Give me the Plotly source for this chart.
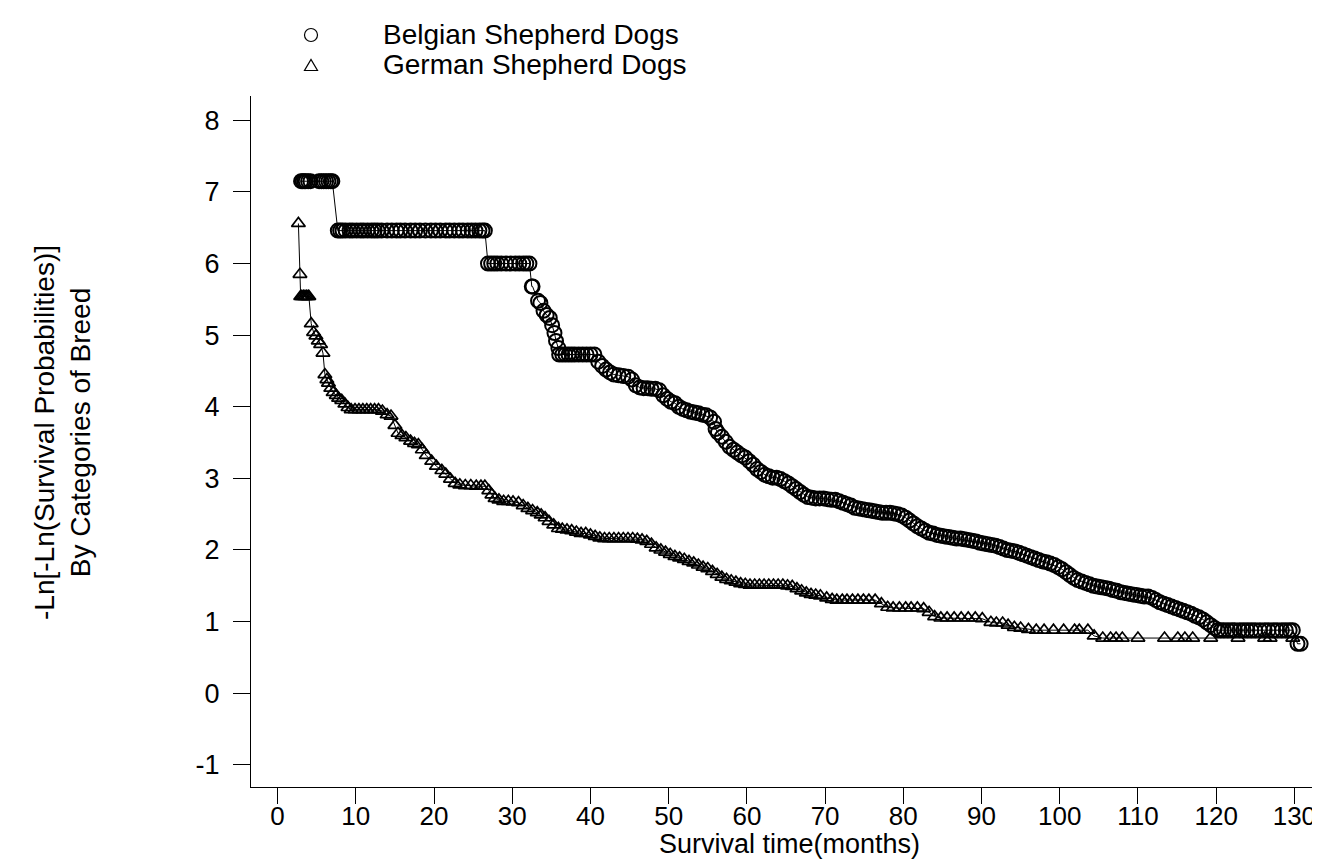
import plotly.graph_objects as go

# ---------------- data ----------------
belgian_t = [3.0, 3.2, 3.4, 3.6, 3.9, 4.2, 5.3, 5.6, 5.9, 6.2, 6.5, 6.8, 7.0,
             7.7, 8.0, 8.3, 8.7, 9.2, 9.6, 10.1, 10.6, 11.0, 11.5, 12.0, 12.4, 12.8, 13.3, 14.0, 14.6,
             15.2, 15.7, 16.3, 17.0, 17.6, 18.2, 18.9, 19.6, 20.2, 20.8, 21.5, 22.0, 22.6, 23.2, 23.7,
             24.3, 24.8, 25.3, 25.8, 26.2, 26.5,
             26.9, 27.3, 27.7, 28.1, 28.6, 29.2, 29.8, 30.4, 30.9, 31.4, 31.8, 32.2,
             32.5, 32.6, 33.3, 33.6, 34.0, 34.4, 34.8, 35.1, 35.4, 35.6, 35.9,
             36.0, 36.4, 36.8, 37.2, 37.6, 38.0, 38.5, 39.0, 39.5, 40.0, 40.5,
             41.0, 41.5, 42.0, 42.5, 43.0, 43.6, 44.2, 44.8, 45.3, 45.8, 46.3, 46.8, 47.3, 47.8, 48.3,
             48.8, 49.3, 49.8, 50.3, 50.8, 51.3, 51.8, 52.3, 52.8, 53.3, 53.8, 54.3, 54.8, 55.3, 55.8,
             56.0, 56.3, 56.8, 57.3, 57.8, 58.3, 58.8, 59.3, 59.8, 60.3, 60.8, 61.3, 61.8, 62.3,
             62.8, 63.3, 63.8, 64.3, 64.8, 65.3, 65.8, 66.3, 66.8, 67.3, 67.8, 68.3, 68.8, 69.3, 69.8,
             70.3, 70.8, 71.3, 71.8, 72.3, 72.8, 73.3, 73.8, 74.3, 74.8, 75.3, 75.8, 76.3, 76.8, 77.3,
             77.8, 78.3, 78.8, 79.3, 79.8, 80.3, 80.8, 81.3, 81.8, 82.3, 82.8, 83.3, 83.8, 84.3, 84.8,
             85.3, 85.8, 86.3, 86.8, 87.3, 87.8, 88.3, 88.8, 89.3, 89.8, 90.3, 90.8, 91.3, 91.8, 92.3,
             92.8, 93.3, 93.8, 94.3, 94.8, 95.3, 95.8, 96.3, 96.8, 97.3, 97.8, 98.3, 98.8, 99.3, 99.8,
             100.3, 100.8, 101.3, 101.8, 102.3, 102.8, 103.3, 103.8, 104.3, 104.8, 105.3, 105.8, 106.3,
             106.8, 107.3, 107.8, 108.3, 108.8, 109.3, 109.8, 110.3, 110.8, 111.3, 111.8, 112.3, 112.8,
             113.3, 113.8, 114.3, 114.8, 115.3, 115.8, 116.3, 116.8, 117.3, 117.8, 118.3, 118.8, 119.3,
             119.8, 120.2,
             120.6, 121.0, 121.5, 122.0, 122.4, 123.0, 123.5, 124.0, 124.5, 125.0, 125.6, 126.2, 126.7,
             127.3, 127.8, 128.4, 128.9, 129.4, 129.8, 130.4, 130.8]
belgian_v = [7.15] * 13 + [6.46] * 37 + [6.00] * 12 + \
            [5.68, 5.68, 5.48, 5.45, 5.34, 5.28, 5.24, 5.14, 5.03, 4.92, 4.82] + [4.73] * 11 + \
            [4.63, 4.57, 4.52, 4.48, 4.45, 4.44, 4.43, 4.42, 4.38, 4.30, 4.27, 4.26, 4.26, 4.25, 4.25,
             4.23, 4.16, 4.11, 4.07, 4.05, 4.00, 3.97, 3.95, 3.93, 3.92, 3.91, 3.89, 3.88, 3.85, 3.79,
             3.69, 3.64, 3.58, 3.51, 3.44, 3.40, 3.36, 3.32, 3.29, 3.24, 3.19, 3.13, 3.09, 3.05,
             3.03, 3.01, 3.01, 2.99, 2.96, 2.93, 2.89, 2.85, 2.81, 2.77, 2.74, 2.73, 2.72, 2.72, 2.72,
             2.71, 2.70, 2.70, 2.68, 2.66, 2.64, 2.62, 2.59, 2.58, 2.57, 2.56, 2.55, 2.54, 2.53, 2.52,
             2.52, 2.52, 2.51, 2.50, 2.48, 2.45, 2.41, 2.37, 2.33, 2.30, 2.27, 2.24, 2.23, 2.21, 2.20,
             2.19, 2.18, 2.17, 2.16, 2.16, 2.15, 2.14, 2.13, 2.12, 2.10, 2.09, 2.08, 2.07, 2.06, 2.04,
             2.02, 2.00, 1.99, 1.98, 1.96, 1.94, 1.92, 1.90, 1.88, 1.86, 1.84, 1.83, 1.81, 1.79, 1.76,
             1.73, 1.69, 1.65, 1.61, 1.58, 1.56, 1.54, 1.52, 1.50, 1.49, 1.48, 1.47, 1.46,
             1.44, 1.43, 1.41, 1.40, 1.39, 1.38, 1.37, 1.36, 1.35, 1.35, 1.33, 1.30, 1.27,
             1.25, 1.23, 1.21, 1.19, 1.17, 1.15, 1.13, 1.11, 1.08, 1.06, 1.03, 0.99, 0.95,
             0.91, 0.88] + [0.88] * 19 + [0.69, 0.69]

german_t = [2.66, 2.86, 2.95, 3.1, 3.3, 3.5, 3.7, 3.9, 4.0, 4.3, 4.6, 4.9, 5.2, 5.5, 5.8, 6.05, 6.3,
            6.5, 6.8, 7.1, 7.5, 7.8, 8.2, 8.6, 9.0, 9.4, 9.9, 10.4, 10.9, 11.4, 11.9, 12.4, 12.9, 13.4,
            14.0, 14.5, 15.0, 15.4, 15.9, 16.4, 17.0, 17.5, 18.0, 18.5, 19.0, 19.7, 20.3, 21.0, 21.5,
            22.1, 22.7, 23.3, 24.0, 24.7, 25.4, 26.0, 26.5, 27.0, 27.4, 27.8, 28.3, 28.9, 29.5, 30.1,
            30.8, 31.4, 32.0, 32.6, 33.2, 33.7, 34.2, 34.7, 35.3, 35.9, 36.4, 37.0, 37.6, 38.2, 38.8,
            39.4, 40.0, 40.6, 41.2, 41.8, 42.4, 43.0, 43.6, 44.2, 44.8, 45.4, 46.0, 46.6, 47.2, 47.8,
            48.4, 49.0, 49.6, 50.2, 50.8, 51.4, 52.0, 52.6, 53.2, 53.8, 54.4, 55.0, 55.6, 56.2, 56.8,
            57.4, 58.0, 58.6, 59.2, 59.8, 60.4, 61.0, 61.6, 62.2, 62.8, 63.4, 64.0, 64.6, 65.2, 65.8,
            66.4, 67.0, 67.6, 68.2, 68.8, 69.4, 70.2, 70.9, 71.5, 72.2, 72.8, 73.5, 74.2, 74.9, 75.6,
            76.4, 77.2, 78.0, 78.7, 79.5, 80.3, 81.0, 81.8, 82.6, 83.3, 84.0, 84.8, 85.6, 86.5, 87.4,
            88.3, 89.2, 90.1, 91.2, 91.9, 92.7, 93.4, 94.2, 95.0, 96.0, 97.0, 98.0, 99.2, 100.5, 101.9,
            102.5, 103.6, 104.4, 105.5, 106.5, 107.2, 108.0, 110.0, 113.4, 115.1, 116.0, 117.0, 119.3,
            122.8, 126.2, 126.9, 129.8]
german_v = [6.56, 5.85, 5.54, 5.54, 5.54, 5.54, 5.54, 5.54, 5.54, 5.16, 5.04, 4.99, 4.92, 4.87, 4.75,
            4.45, 4.38, 4.33, 4.26, 4.20, 4.16, 4.12, 4.09, 4.04, 3.99, 3.96, 3.96, 3.96, 3.96, 3.96,
            3.96, 3.96, 3.96, 3.94, 3.89, 3.87, 3.74, 3.63, 3.60, 3.57, 3.52, 3.49, 3.47, 3.40, 3.32,
            3.24, 3.17, 3.11, 3.06, 2.99, 2.93, 2.91, 2.90, 2.90, 2.89, 2.89, 2.89, 2.83, 2.77, 2.72,
            2.70, 2.68, 2.68, 2.67, 2.66, 2.62, 2.58, 2.55, 2.52, 2.49, 2.45, 2.40, 2.35, 2.30, 2.29,
            2.28, 2.27, 2.25, 2.23, 2.23, 2.21, 2.19, 2.17, 2.16, 2.16, 2.16, 2.16, 2.16, 2.16, 2.16,
            2.15, 2.14, 2.12, 2.08, 2.03, 2.00, 1.97, 1.94, 1.91, 1.89, 1.87, 1.84, 1.82, 1.79, 1.76,
            1.74, 1.70, 1.66, 1.62, 1.59, 1.57, 1.55, 1.53, 1.52, 1.51, 1.51, 1.51, 1.51, 1.51, 1.51,
            1.51, 1.51, 1.50, 1.49, 1.46, 1.43, 1.40, 1.38, 1.37, 1.36, 1.33, 1.31, 1.30, 1.30, 1.30,
            1.30, 1.30, 1.30, 1.30, 1.30, 1.25, 1.20, 1.19, 1.19, 1.19, 1.19, 1.19, 1.18, 1.13, 1.07,
            1.05, 1.05, 1.05, 1.05, 1.05, 1.05, 1.04, 0.99, 0.98, 0.98, 0.95, 0.92, 0.91, 0.89, 0.88,
            0.88, 0.88, 0.88, 0.88, 0.88, 0.88, 0.80, 0.77, 0.77, 0.77, 0.77, 0.77, 0.77, 0.77, 0.77,
            0.77, 0.77, 0.77, 0.77, 0.77, 0.77]

x_ticks = [0, 10, 20, 30, 40, 50, 60, 70, 80, 90, 100, 110, 120, 130]
y_ticks = [-1, 0, 1, 2, 3, 4, 5, 6, 7, 8]
y_tick_labels = ["-1", "0", "1", "2", "3", "4", "5", "6", "7", "8"]
series_names = ["Belgian Shepherd Dogs", "German Shepherd Dogs"]
x_title = "Survival time(months)"
y_title = "-Ln[-Ln(Survival Probabilities)]<br>By Categories of Breed"

# ---------------- figure ----------------
FONT = "Liberation Sans, Arial, sans-serif"
W, H = 1320, 859
L, R, T, B = 243, 0, 88, 80
PW, PH = W - L - R, H - T - B

fig = go.Figure()
fig.add_trace(go.Scatter(
    x=german_t, y=german_v, mode="lines+markers", name=series_names[1],
    line=dict(color="black", width=1),
    marker=dict(symbol="triangle-up-open", size=12, color="black", line=dict(width=1.7)),
    showlegend=False))
fig.add_trace(go.Scatter(
    x=belgian_t, y=belgian_v, mode="lines+markers", name=series_names[0],
    line=dict(color="black", width=1),
    marker=dict(symbol="circle-open", size=14, color="black", line=dict(width=2)),
    showlegend=False))


def px_x(p):
    return (p - L) / PW


def px_y(p):
    return (H - B - p) / PH


# legend (drawn manually: symbol + label)
cx, cy1, cy2 = 303, 27, 57
fig.add_shape(type="circle", xref="paper", yref="paper",
              x0=px_x(cx - 6.5), x1=px_x(cx + 6.5), y0=px_y(cy1 + 6.5), y1=px_y(cy1 - 6.5),
              line=dict(color="black", width=1.2))
tri = "M {a},{b} L {c},{b} L {d},{e} Z".format(
    a=px_x(cx - 6.5), b=px_y(cy2 + 5.5), c=px_x(cx + 6.5), d=px_x(cx), e=px_y(cy2 - 5.5))
fig.add_shape(type="path", xref="paper", yref="paper", path=tri,
              line=dict(color="black", width=1.2))
for name, cy in zip(series_names, [cy1, cy2]):
    fig.add_annotation(text=name, xref="paper", yref="paper", x=px_x(373), y=px_y(cy),
                       xanchor="left", yanchor="middle", showarrow=False,
                       font=dict(family=FONT, size=28, color="black"))

# axis titles
fig.add_annotation(text=x_title, xref="paper", yref="paper", x=0.5, y=px_y(836),
                   xanchor="center", yanchor="middle", showarrow=False,
                   font=dict(family=FONT, size=27, color="black"))
fig.add_annotation(text=y_title, xref="paper", yref="paper", x=px_x(55), y=px_y(425),
                   xanchor="center", yanchor="middle", showarrow=False, textangle=-90,
                   font=dict(family=FONT, size=28, color="black"))

fig.update_layout(
    width=W, height=H, margin=dict(l=L, r=R, t=T, b=B),
    paper_bgcolor="white", plot_bgcolor="white",
    font=dict(family=FONT, size=26, color="black"),
    xaxis=dict(range=[-3.4, 134.3], tickvals=x_ticks, ticks="outside", ticklen=16,
               tickcolor="black", tickwidth=1, showline=True, linecolor="black", linewidth=1,
               showgrid=False, zeroline=False, tickfont=dict(size=26), ticklabelstandoff=-10),
    yaxis=dict(range=[-1.31, 8.34], tickvals=y_ticks, ticktext=y_tick_labels,
               ticks="outside", ticklen=17, ticklabelstandoff=8,
               tickcolor="black", tickwidth=1, showline=True, linecolor="black", linewidth=1,
               showgrid=False, zeroline=False, tickfont=dict(size=27)),
)

fig.write_html("out.html")
